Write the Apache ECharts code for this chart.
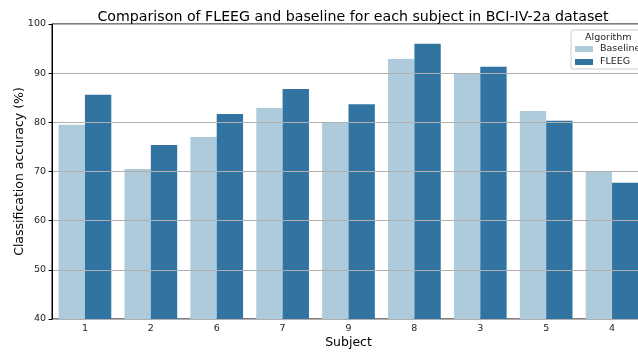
<!DOCTYPE html>
<html>
<head>
<meta charset="utf-8">
<script src="https://cdn.jsdelivr.net/npm/echarts@6/dist/echarts.min.js"></script>
<style>html,body{margin:0;padding:0;background:#fff}#c{width:638px;height:354px}</style>
</head>
<body>
<div id="c"></div>
<script>
const subjects = ['1', '2', '6', '7', '9', '8', '3', '5', '4'];
const baseline = [79.5, 70.5, 77.0, 82.9, 80.0, 92.9, 90.0, 82.3, 70.1];
const fleeg = [85.6, 75.4, 81.7, 86.8, 83.7, 96.0, 91.3, 80.3, 67.7];
const yTicks = [40, 50, 60, 70, 80, 90, 100];

const FONT = '"DejaVu Sans", sans-serif';
const chart = echarts.init(document.getElementById('c'), null, {renderer: 'canvas'});
chart.setOption({
  animation: false,
  backgroundColor: '#fff',
  title: {
    text: 'Comparison of FLEEG and baseline for each subject in BCI-IV-2a dataset',
    left: 348, top: 5, textAlign: 'center',
    textStyle: {fontFamily: FONT, fontSize: 14.2, fontWeight: 'normal', color: '#000'}
  },
  grid: {left: 52, top: 24, bottom: 35, right: -7, containLabel: false, outerBoundsMode: 'none',
         show: true, borderColor: '#000', borderWidth: 1},
  legend: {
    orient: 'vertical', left: 571, top: 30,
    padding: [13.5, 40, 1.5, 4],
    itemWidth: 18, itemHeight: 6, itemGap: 2,
    backgroundColor: 'rgba(255,255,255,0.8)', borderColor: '#ccc', borderWidth: 1, borderRadius: 2,
    textStyle: {fontFamily: FONT, fontSize: 9.5, lineHeight: 11, color: '#222', padding: [0, 0, 0, 2]},
    icon: 'rect',
    data: ['Baseline', 'FLEEG']
  },
  graphic: [{
    type: 'text', left: 585, top: 32.5, z: 100,
    style: {text: 'Algorithm', fontFamily: FONT, fontSize: 9.5, fill: '#222'}
  }],
  xAxis: {
    type: 'category', data: subjects,
    name: 'Subject', nameLocation: 'middle', nameGap: 17, nameMoveOverlap: false,
    nameTextStyle: {fontFamily: FONT, fontSize: 12.5, color: '#000'},
    axisLine: {lineStyle: {color: '#000', width: 1}},
    axisTick: {alignWithLabel: true, length: 3.5, lineStyle: {color: '#000'}},
    axisLabel: {fontFamily: FONT, fontSize: 9.5, color: '#222', margin: 5},
    splitLine: {show: false}
  },
  yAxis: {
    type: 'value', min: yTicks[0], max: yTicks[yTicks.length - 1], interval: 10, z: 5,
    name: 'Classification accuracy (%)', nameLocation: 'middle', nameGap: 26, nameMoveOverlap: false,
    nameTextStyle: {fontFamily: FONT, fontSize: 12.5, color: '#000'},
    axisLine: {show: true, lineStyle: {color: '#000', width: 1}},
    axisTick: {show: true, length: 3.5, lineStyle: {color: '#000'}},
    axisLabel: {fontFamily: FONT, fontSize: 9.5, color: '#222', margin: 6},
    splitLine: {show: true, lineStyle: {color: '#b0b0b0', width: 1}}
  },
  series: [
    {name: 'Baseline', type: 'bar', data: baseline, barGap: '0%', barCategoryGap: '20%',
     itemStyle: {color: '#aecbdc'}},
    {name: 'FLEEG', type: 'bar', data: fleeg, barGap: '0%', barCategoryGap: '20%',
     itemStyle: {color: '#3174a1'}}
  ]
});
</script>
</body>
</html>
